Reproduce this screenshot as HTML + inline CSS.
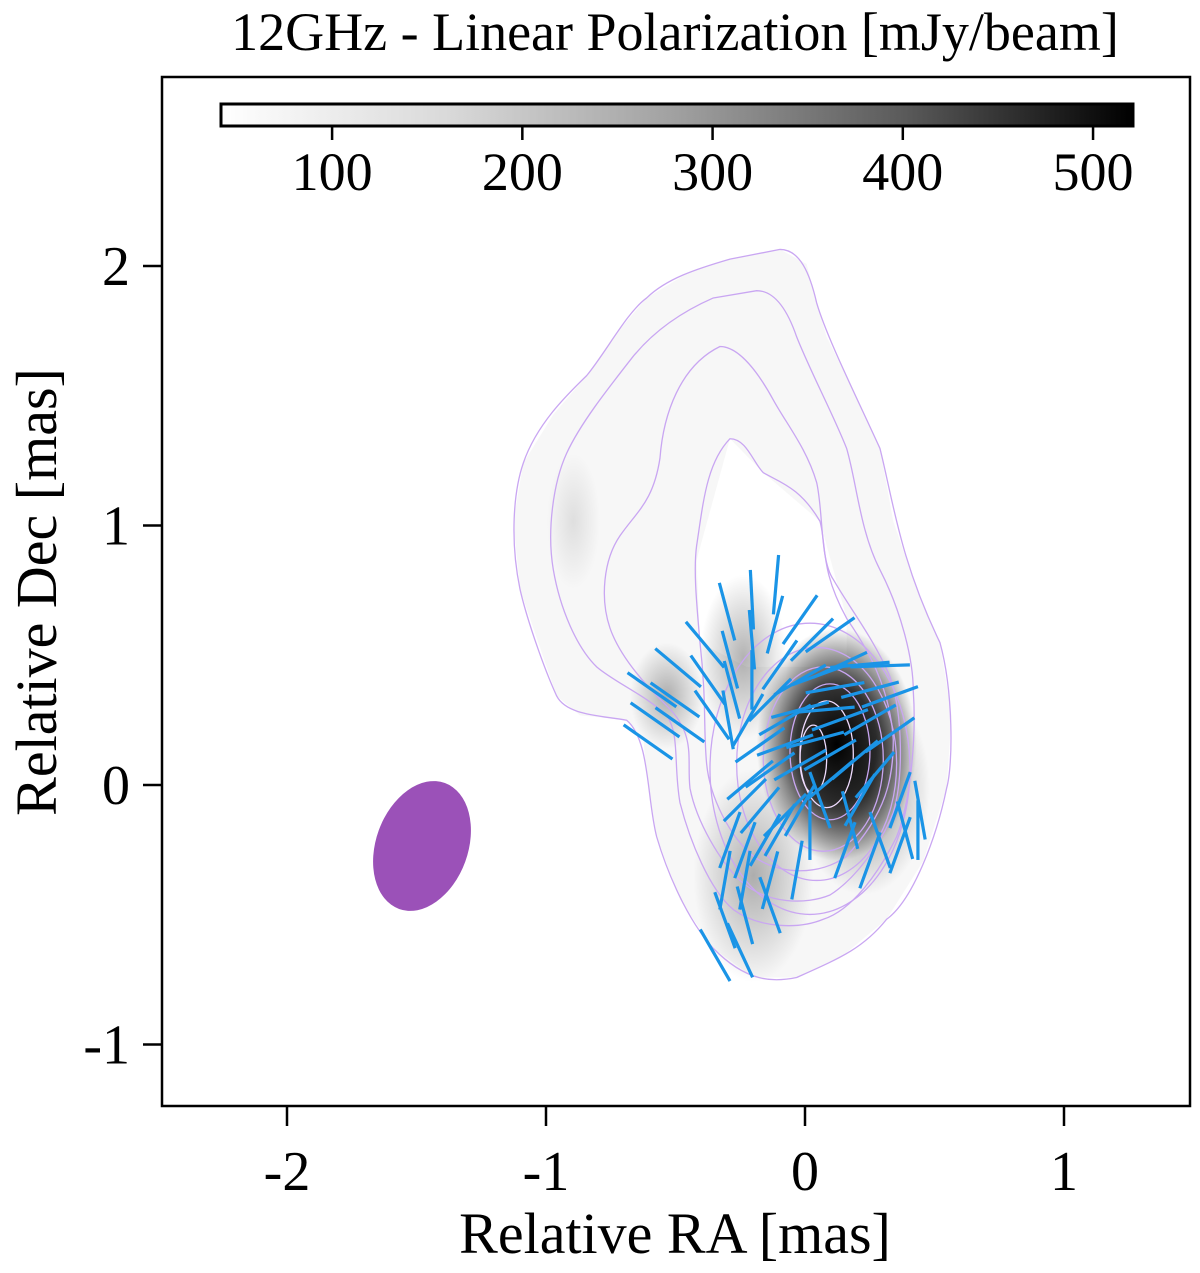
<!DOCTYPE html>
<html><head><meta charset="utf-8">
<style>
html,body{margin:0;padding:0;background:#fff;}
svg{display:block;font-family:"Liberation Serif",serif;}
</style></head>
<body>
<svg id="chart" width="1200" height="1273" viewBox="0 0 1200 1273">
<defs>
<linearGradient id="cbar" x1="0" x2="1" y1="0" y2="0">
<stop offset="0" stop-color="#ffffff"/><stop offset="0.25" stop-color="#d9d9d9"/><stop offset="0.5" stop-color="#a0a0a0"/><stop offset="0.75" stop-color="#5a5a5a"/><stop offset="1" stop-color="#000000"/>
</linearGradient>
<radialGradient id="core"><stop offset="0" stop-color="#000" stop-opacity="1"/><stop offset="0.5" stop-color="#111" stop-opacity="0.85"/><stop offset="1" stop-color="#000" stop-opacity="0"/></radialGradient>
<radialGradient id="soft"><stop offset="0" stop-color="#000" stop-opacity="1"/><stop offset="1" stop-color="#000" stop-opacity="0"/></radialGradient>
<clipPath id="plotclip"><rect x="162" y="77" width="1028" height="1029"/></clipPath>
</defs>
<text x="675" y="50" font-size="54" text-anchor="middle">12GHz - Linear Polarization [mJy/beam]</text>
<g clip-path="url(#plotclip)">
<g id="image" transform="translate(480,230) scale(0.3333,0.4854)">
 <path fill-rule="evenodd" d="M900,40 L980,70 1010,150 1040,220 1120,330 1200,450 1240,600 1300,720 1380,850 1415,1000 1400,1150 1330,1300 1220,1420 1080,1500 950,1540 820,1540 700,1480 600,1380 530,1250 500,1120 490,1050 440,1010 300,1000 230,960 180,860 120,740 100,600 130,480 220,380 320,300 400,220 500,140 620,90 750,60 Z M750,430 L850,500 1020,600 1100,800 1100,900 800,900 660,850 650,680 Z" fill="#000" fill-opacity="0.03"/>
 <ellipse cx="280" cy="600" rx="80" ry="140" fill="url(#soft)" opacity="0.1"/>
 <ellipse cx="560" cy="960" rx="110" ry="110" fill="url(#soft)" opacity="0.3"/>
 <ellipse cx="790" cy="880" rx="130" ry="170" fill="url(#soft)" opacity="0.3"/>
 <ellipse cx="820" cy="1330" rx="180" ry="220" fill="url(#soft)" opacity="0.3"/>
 <ellipse cx="1150" cy="1150" rx="200" ry="220" fill="url(#soft)" opacity="0.45"/>
 <ellipse cx="1070" cy="1060" rx="240" ry="240" fill="url(#core)" opacity="1"/>
</g>
<g id="contours" transform="translate(480,230) scale(0.3333,0.4854)" fill="none" stroke="#c9a6f2" stroke-width="1.3">
 <path vector-effect="non-scaling-stroke" d="M900,40 C960,40 990,90 1010,150 C1040,220 1120,330 1200,450 C1240,560 1260,680 1380,850 C1420,950 1420,1100 1400,1150 C1370,1250 1300,1380 1220,1420 C1150,1480 1080,1500 950,1540 C880,1550 800,1550 700,1480 C620,1420 560,1320 530,1250 C500,1170 510,1050 440,1010 C360,1000 260,1000 230,960 C190,900 140,800 120,740 C90,640 100,540 130,480 C170,400 260,340 320,300 C380,250 440,170 500,140 C560,100 650,80 750,60 Z"/>
 <path vector-effect="non-scaling-stroke" d="M830,125 C880,125 920,160 950,220 C990,290 1060,380 1100,450 C1130,520 1140,620 1200,700 C1260,780 1300,880 1300,950 C1310,1050 1290,1180 1250,1250 C1200,1320 1120,1400 1030,1420 C960,1440 840,1440 760,1400 C690,1360 630,1260 600,1180 C580,1100 600,1040 560,1000 C500,960 400,930 350,900 C290,860 240,780 220,700 C200,620 220,520 260,460 C300,400 380,330 460,260 C520,210 600,170 700,140 Z"/>
 <path vector-effect="non-scaling-stroke" d="M720,240 C780,240 840,300 880,350 C920,400 980,450 1010,520 C1030,580 1020,680 1060,720 C1110,780 1180,840 1230,920 C1270,1000 1270,1130 1240,1200 C1200,1270 1120,1340 1050,1370 C980,1390 860,1390 780,1340 C720,1300 650,1220 630,1150 C620,1090 650,1040 560,980 C500,940 420,880 390,820 C360,760 370,680 420,630 C470,580 520,560 540,470 C550,380 600,280 720,240 Z"/>
 <path vector-effect="non-scaling-stroke" d="M750,430 C800,430 820,480 850,500 C900,520 960,530 1020,600 C1040,650 1020,700 1100,800 C1160,860 1230,940 1240,1050 C1240,1130 1220,1200 1100,1290 C1020,1330 900,1330 820,1290 C750,1250 690,1170 680,1100 C670,1030 680,970 660,850 C650,770 640,700 650,650 C670,560 680,480 750,430 Z"/>
 <ellipse vector-effect="non-scaling-stroke" cx="990" cy="1110" rx="300" ry="300"/>
 <ellipse vector-effect="non-scaling-stroke" cx="1010" cy="1100" rx="240" ry="240"/>
 <ellipse vector-effect="non-scaling-stroke" cx="1030" cy="1090" rx="180" ry="190"/>
 <ellipse vector-effect="non-scaling-stroke" cx="1050" cy="1075" rx="120" ry="140"/>
 <ellipse vector-effect="non-scaling-stroke" cx="1040" cy="1080" rx="80" ry="110" stroke="#f0dcff"/>
 <ellipse vector-effect="non-scaling-stroke" cx="1000" cy="1090" rx="40" ry="70" stroke="#f0dcff"/>
</g>
<g id="sticks"></g>
<ellipse cx="422" cy="846" rx="46" ry="67" transform="rotate(20 422 846)" fill="#9b51b8"/>
</g>
<rect x="162" y="77" width="1028" height="1029" fill="none" stroke="#000" stroke-width="2.5"/>
<rect x="221" y="104" width="912" height="22" fill="url(#cbar)" stroke="#000" stroke-width="3"/>
<g id="cbticks"></g>
<g id="axes"></g>
<text x="675" y="1253" font-size="58" text-anchor="middle">Relative RA [mas]</text>
<text x="0" y="0" font-size="58" text-anchor="middle" transform="translate(56,592) rotate(-90)">Relative Dec [mas]</text>
</svg>
<script>
const xTicks=[-2,-1,0,1];
const yTicks=[2,1,0,-1];
const cbTicks=[100,200,300,400,500];
const cbMin=41.6, cbMax=521;
// EVPA vectors: RA (mas), Dec (mas), angle (deg from north, + toward right)
const stickX=[];const stickY=[];const stickAng=[];
const rawPix=[[652,690,-55],[655,720,-55],[678,668,-50],[675,700,-55],[680,725,-55],[648,742,-55],
[705,645,-40],[708,680,-35],[712,715,-35],[727,612,-15],[730,660,-15],[732,690,-15],[728,720,-10],
[752,600,-3],[752,640,-5],[752,680,0],[748,720,30],[776,585,5],[775,625,15],[780,665,35],[770,700,45],
[800,620,35],[812,640,45],[830,635,55],[840,665,65],[860,665,85],[880,666,88],
[800,680,60],[820,675,70],[835,688,80],[870,690,75],[890,697,70],
[785,720,60],[800,710,75],[825,710,85],[840,720,70],[870,720,60],[890,735,55],
[760,745,55],[785,745,70],[815,740,75],[830,755,60],[855,760,50],[875,775,40],
[750,780,50],[770,770,55],[800,765,60],[830,780,50],[860,800,30],[900,800,20],
[745,800,45],[760,810,40],[785,815,45],[800,810,30],[820,800,-20],[850,820,-15],[880,840,-20],[905,830,-15],[920,810,-10],
[730,840,20],[745,850,20],[765,840,30],[780,830,30],[810,830,0],[845,850,20],[870,860,20],[900,845,20],[918,830,0],
[725,880,10],[745,880,10],[770,880,15],[797,870,10],
[725,920,-20],[745,915,-15],[770,905,-20],[715,955,-30],[740,950,-25]];
rawPix.forEach(p=>{stickX.push(+((p[0]-805)/259).toFixed(3));stickY.push(+((785-p[1])/259).toFixed(3));stickAng.push(p[2]);});
const stickLen=0.23;
const NS="http://www.w3.org/2000/svg";
function xs(v){return 805+v*259;}
function ys(v){return 785-v*259.5;}
function cbx(v){return 221+(v-cbMin)/(cbMax-cbMin)*912;}
function mk(t,a,p){const e=document.createElementNS(NS,t);for(const k in a)e.setAttribute(k,a[k]);p.appendChild(e);return e;}
const sg=document.getElementById('sticks');
for(let i=0;i<stickX.length;i++){
 const a=stickAng[i]*Math.PI/180,cx=xs(stickX[i]),cy=ys(stickY[i]),h=stickLen*259/2;
 const l=mk('line',{x1:cx-h*Math.sin(a),y1:cy+h*Math.cos(a),x2:cx+h*Math.sin(a),y2:cy-h*Math.cos(a),stroke:'#1a94e6','stroke-width':3.2},sg);
 
 
}
const ax=document.getElementById('axes');
xTicks.forEach(v=>{const x=xs(v);
 const t=mk('line',{x1:x,y1:1106,x2:x,y2:1126,stroke:'#000','stroke-width':2.5},ax);
 
 
 const tx=mk('text',{x:x,y:1190,'font-size':56,'text-anchor':'middle'},ax);tx.textContent=v;
 
 });
yTicks.forEach(v=>{const y=ys(v);
 const t=mk('line',{x1:143,y1:y,x2:162,y2:y,stroke:'#000','stroke-width':2.5},ax);
 
 
 const tx=mk('text',{x:130,y:y+19,'font-size':56,'text-anchor':'end'},ax);tx.textContent=v;
 
 });
const cg=document.getElementById('cbticks');
cbTicks.forEach(v=>{const x=cbx(v);
 const t=mk('line',{x1:x,y1:126,x2:x,y2:140,stroke:'#000','stroke-width':2.5},cg);
 
 
 const tx=mk('text',{x:x,y:190,'font-size':54,'text-anchor':'middle'},cg);tx.textContent=v;
 
 });
</script>
</body></html>
